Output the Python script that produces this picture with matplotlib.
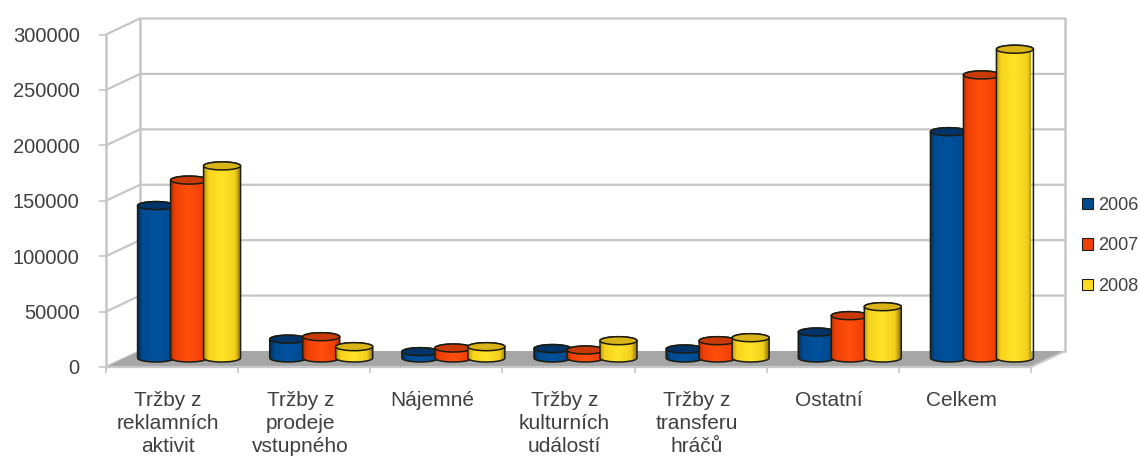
import numpy as np
import matplotlib
matplotlib.use("Agg")
import matplotlib.pyplot as plt
from matplotlib.colors import LinearSegmentedColormap
from matplotlib.patches import Patch, Polygon

categories = [
    "Tržby z\nreklamních\naktivit",
    "Tržby z\nprodeje\nvstupného",
    "Nájemné",
    "Tržby z\nkulturních\nudálostí",
    "Tržby z\ntransferu\nhráčů",
    "Ostatní",
    "Celkem",
]
years = ["2006", "2007", "2008"]
values_2006 = [137500, 17000, 5700, 8500, 8100, 23400, 204200]
values_2007 = [160500, 19200, 9000, 7200, 15600, 38200, 255400]
values_2008 = [173300, 10200, 10200, 15600, 18300, 46300, 278600]
y_ticks = [0, 50000, 100000, 150000, 200000, 250000, 300000]

series = [values_2006, values_2007, values_2008]
stops = [0, 0.12, 0.5, 0.85, 1]
shades = [
    ["#00305f", "#004a90", "#00529e", "#004a90", "#002a55"],
    ["#b83000", "#f04208", "#ff4f0c", "#f04208", "#a82c00"],
    ["#b89a10", "#f8d41c", "#ffe327", "#f2cf1c", "#8f7608"],
]
top_colors = ["#003468", "#c93a08", "#d8b418"]
legend_colors = ["#004a90", "#f04208", "#ffdc20"]

GRID = "#c6c6c6"
TEXT = "#404040"
OUTLINE = "#1c1c10"

plt.rcParams["font.family"] = ["Liberation Sans", "DejaVu Sans"]

W, H = 1139, 459
fig = plt.figure(figsize=(W / 100, H / 100), dpi=100)
ax = fig.add_axes([106 / W, 1 - 367 / H, 925 / W, 332.5 / H])
ax.set_xlim(0, 7)
ax.set_ylim(0, 300000)
ax.patch.set_visible(False)
for s in ax.spines.values():
    s.set_visible(False)

# pixels to data units, the fake 3d depth is a fixed shift
px_x = 7 / 925
px_y = 300000 / 332.5
dx = 34 * px_x
dy = 16 * px_y

# floor
ax.fill([0, dx, 7 + dx, 7], [0, dy, dy, 0], color="#a6a6a6", lw=0, zorder=2, clip_on=False)
ax.plot([0, 7, 7 + dx], [0, 0, dy], color="#c8c8c8", lw=1.6, zorder=2, clip_on=False)

# back wall and side wall grid
for v in y_ticks[1:]:
    ax.plot([0, dx, 7 + dx], [v, v + dy, v + dy], color=GRID, lw=1.6, zorder=1, clip_on=False)
ax.plot([0, dx], [0, dy], color=GRID, lw=1.6, zorder=1, clip_on=False)
ax.plot([0, 0], [0, 300000], color=GRID, lw=1.8, zorder=1, clip_on=False)
ax.plot([dx, dx], [dy, 300000 + dy], color=GRID, lw=1.8, zorder=1, clip_on=False)
ax.plot([7 + dx, 7 + dx], [dy, 300000 + dy], color=GRID, lw=1.8, zorder=1, clip_on=False)

# cylinders
bar_step = 33 * px_x
bar_w = 37 * px_x
bar_x = 17 * px_x
bar_y = 9 * px_y
ell_h = 4 * px_y
t = np.linspace(0, np.pi, 40)

z = 5
for i, vals in enumerate(series):
    cmap = LinearSegmentedColormap.from_list("c", list(zip(stops, shades[i])))
    for j, v in enumerate(vals):
        cx = j + 0.5 + bar_x + (i - 1) * bar_step
        top = v + bar_y
        xs = cx + bar_w / 2 * np.cos(t)
        up = np.sin(t) * ell_h
        body = np.concatenate([
            np.column_stack([xs, top + up]),
            np.column_stack([xs[::-1], bar_y - up[::-1]]),
        ])
        outline = Polygon(body, closed=True, fc="none", ec=OUTLINE, lw=1.1, zorder=z + 1, clip_on=False)
        ax.add_patch(outline)
        im = ax.imshow(
            np.linspace(0, 1, 64).reshape(1, -1),
            extent=[cx - bar_w / 2, cx + bar_w / 2, bar_y - ell_h, top + ell_h],
            aspect="auto", cmap=cmap, zorder=z, interpolation="bilinear",
        )
        im.set_clip_path(outline)
        lid_t = np.linspace(0, 2 * np.pi, 80)
        lid = np.column_stack([cx + bar_w / 2 * np.cos(lid_t), top + ell_h * np.sin(lid_t)])
        ax.add_patch(Polygon(lid, closed=True, fc=top_colors[i], ec=OUTLINE, lw=1.1, zorder=z + 2, clip_on=False))
        z += 3

ax.set_xlim(0, 7)
ax.set_ylim(0, 300000)

# ticks sit on the category edges, labels between them
ax.set_xticks(range(8))
ax.set_xticklabels([])
ax.set_xticks(np.arange(7) + 0.47, minor=True)
ax.set_xticklabels(categories, minor=True, fontsize=15, color=TEXT, linespacing=1.27)
ax.tick_params(axis="x", which="major", length=4, width=1.2, color=GRID)
ax.tick_params(axis="x", which="minor", length=0, pad=17)
ax.set_yticks(y_ticks)
ax.set_yticklabels([str(v) for v in y_ticks], fontsize=14.5, color=TEXT)
ax.tick_params(axis="y", length=5, width=1.2, color=GRID, pad=14)

handles = [Patch(fc=c, ec=OUTLINE, lw=0.8) for c in legend_colors]
fig.legend(
    handles, years, loc="upper left", bbox_to_anchor=(1082 / W, 1 - 197 / H),
    frameon=False, fontsize=13, labelcolor=TEXT, handlelength=0.6, handleheight=0.6,
    handletextpad=0.3, labelspacing=1.3, borderpad=0, borderaxespad=0,
)

fig.savefig("out.png", dpi=100)
